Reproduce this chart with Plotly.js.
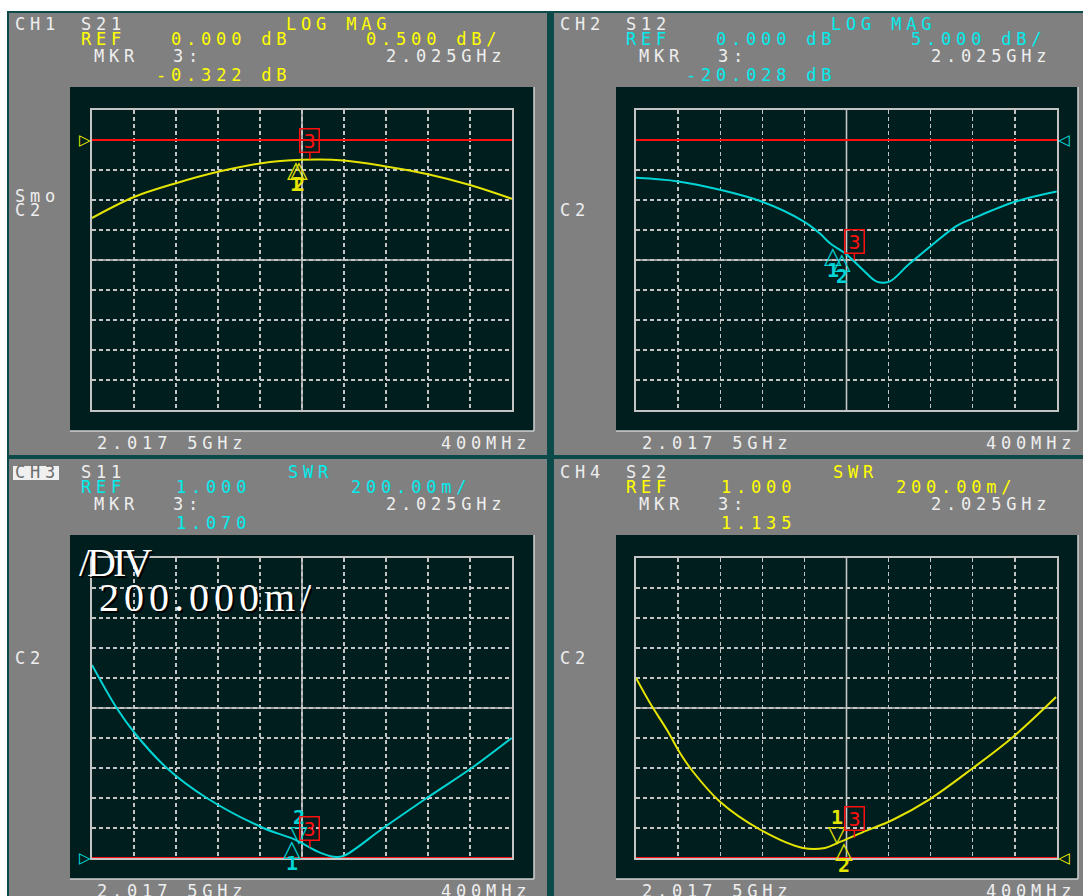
<!DOCTYPE html>
<html><head><meta charset="utf-8">
<script src="https://cdn.plot.ly/plotly-3.0.1.min.js"></script>
<style>html,body{margin:0;padding:0;background:#fff;overflow:hidden}#chart{width:1083px;height:896px}</style>
</head><body><div id="chart"></div>
<script>
const W = 1083, H = 896;

// ---- sweep (center 2.0175 GHz, span 400 MHz) ----
const sweepStart = 1.8175, sweepStop = 2.2175, freqPerDiv = 0.04;

// ---- CH1: S21 LOG MAG (dB) ----
const s21Freq = [1.8175, 1.8575, 1.8975, 1.9375, 1.9775, 2.0175, 2.0575, 2.0975, 2.1375, 2.1775, 2.2175];
const s21Mag  = [-1.30, -0.95, -0.72, -0.53, -0.39, -0.33, -0.34, -0.44, -0.57, -0.75, -0.98];

// ---- CH2: S12 LOG MAG (dB) ----
const s12Freq = [1.8175, 1.8577, 1.8973, 1.9375, 1.9771, 1.9923, 2.0018, 2.0177, 2.0335, 2.0462, 2.0582, 2.0762, 2.0968, 2.1222, 2.1380, 2.1776, 2.2172];
const s12Mag  = [-6.3, -6.9, -8.3, -10.3, -13.6, -15.6, -17.2, -19.1, -21.7, -23.6, -23.6, -20.8, -17.8, -14.3, -13.05, -10.3, -8.6];

// ---- CH3: S11 SWR ----
const s11Freq = [1.8175, 1.8410, 1.8585, 1.8887, 1.9268, 1.9807, 2.0093, 2.0346, 2.0473, 2.0568, 2.0949, 2.1363, 2.1791, 2.2172];
const s11Swr  = [2.287, 2.00, 1.83, 1.60, 1.40, 1.20, 1.127, 1.036, 1.009, 1.013, 1.20, 1.40, 1.60, 1.80];

// ---- CH4: S22 SWR ----
const s22Freq = [1.8175, 1.8308, 1.8470, 1.8593, 1.8717, 1.8973, 1.9353, 1.9762, 1.9971, 2.0113, 2.0332, 2.0617, 2.0968, 2.1377, 2.1757, 2.2166];
const s22Swr  = [2.20, 2.033, 1.853, 1.70, 1.575, 1.375, 1.19, 1.067, 1.067, 1.107, 1.173, 1.255, 1.393, 1.60, 1.807, 2.073];

// ---- per-channel settings ----
const refLevels = [0, 0, 1, 1];
const perDiv    = [0.5, 5, 0.2, 0.2];
const refPosDiv = [9, 9, 0, 0];   // reference position, divisions from bottom

// ---- markers (freq GHz, value) ----
const mkrFreq = [[2.0120, 2.0150, 2.025], [2.005, 2.013, 2.025], [2.008, 2.015, 2.025], [2.0085, 2.015, 2.025]];
const mkrVal  = [[-0.33, -0.33, -0.322], [-17.6, -18.7, -20.028], [1.13, 1.10, 1.070], [1.10, 1.115, 1.135]];
const mkrAbove = [[false, false], [false, false], [false, true], [true, false]];

// ---- annotation texts ----
const chanNames   = ['CH1', 'CH2', 'CH3', 'CH4'];
const paramNames  = ['S21', 'S12', 'S11', 'S22'];
const formatNames = ['LOG MAG', 'LOG MAG', 'SWR', 'SWR'];
const refTexts    = ['0.000 dB', '0.000 dB', '1.000', '1.000'];
const scaleTexts  = ['0.500 dB/', '5.000 dB/', '200.00m/', '200.00m/'];
const mkrValTexts = ['-0.322 dB', '-20.028 dB', '1.070', '1.135'];
const mkrLabel = 'MKR', mkrNum = '3:', mkrFreqText = '2.025GHz';
const centerText = '2.017 5GHz', spanText = '400MHz';

const traceFreqs = [s21Freq, s12Freq, s11Freq, s22Freq];
const traceVals  = [s21Mag, s12Mag, s11Swr, s22Swr];

// ---- styling ----
const YEL = '#ffff00', CYN = '#00ecec', WHT = '#eeeeee';
const TYEL = '#e4e400', TCYN = '#00d4d4';
const textCol  = [YEL, CYN, CYN, YEL];
const traceCol = [TYEL, TCYN, TCYN, TYEL];
const GRID = '#c4c4c4', BLACK = '#011e1e', GRAY = '#808080', TEAL = '#0c4a4a';
const MONO = 'DejaVu Sans Mono';

const px = x => x / W, py = y => 1 - y / H;
const offX = [0, 545, 0, 545], offY = [0, 0, 448, 448];
const gridX = [[92, 512], [636, 1057], [92, 512], [636, 1057]];
const gridY = [[110, 410], [110, 410], [558, 858], [558, 858]];
const grayBox = [[9, 547, 13, 455], [554, 1083, 13, 455], [9, 547, 459, 896], [554, 1083, 459, 896]];
const blackBox = [[70, 534, 87, 431], [616, 1078, 87, 431], [70, 534, 535, 879], [616, 1078, 535, 879]];

const shapes = [];
const annotations = [];
const data = [];
const layout = {
  width: W, height: H, margin: {l: 0, r: 0, t: 0, b: 0},
  paper_bgcolor: '#ffffff', plot_bgcolor: 'rgba(0,0,0,0)', showlegend: false,
  shapes, annotations
};

shapes.push({type: 'rect', xref: 'paper', yref: 'paper', x0: px(7), x1: 1, y0: 0, y1: py(11), fillcolor: TEAL, line: {width: 0}, layer: 'below'});

function txt(text, x, y, color, opt) {
  annotations.push(Object.assign({
    text, xref: 'paper', yref: 'paper', x: px(x), y: py(y), xanchor: 'left', yanchor: 'middle',
    showarrow: false, align: 'left', borderpad: 0,
    font: {family: MONO, size: 17, color}
  }, opt || {}));
}

for (let p = 0; p < 4; p++) {
  const sx = p === 0 ? '' : String(p + 1);
  const xa = 'x' + sx, ya = 'y' + sx;
  const ox = offX[p], oy = offY[p];
  const g = grayBox[p], b = blackBox[p];
  shapes.push({type: 'rect', xref: 'paper', yref: 'paper', x0: px(g[0]), x1: px(g[1]), y0: py(g[3]), y1: py(g[2]), fillcolor: GRAY, line: {width: 0}, layer: 'below'});
  shapes.push({type: 'rect', xref: 'paper', yref: 'paper', x0: px(b[0]), x1: px(b[1]), y0: py(b[3]), y1: py(b[2]), fillcolor: BLACK, line: {width: 0}, layer: 'below'});
  shapes.push({type: 'line', xref: 'paper', yref: 'paper', x0: px(b[1]), x1: px(b[1]), y0: py(b[3]), y1: py(b[2]), line: {color: '#d0d0d0', width: 1.5}, layer: 'below'});
  shapes.push({type: 'line', xref: 'paper', yref: 'paper', x0: px(b[0]), x1: px(b[1]), y0: py(b[3]), y1: py(b[3]), line: {color: '#d0d0d0', width: 1.5}, layer: 'below'});

  const ref = refLevels[p], d = perDiv[p];
  const yr = [ref - refPosDiv[p] * d, ref + (10 - refPosDiv[p]) * d];
  layout['xaxis' + sx] = {
    domain: [px(gridX[p][0]), px(gridX[p][1])], anchor: ya, range: [sweepStart, sweepStop],
    tick0: sweepStart, dtick: freqPerDiv, showgrid: true, gridcolor: GRID, gridwidth: 1.3, griddash: '4px,3px',
    showticklabels: false, ticks: '', zeroline: false, showline: true, mirror: true, linecolor: GRID, linewidth: 1.6, fixedrange: true
  };
  layout['yaxis' + sx] = {
    domain: [py(gridY[p][1]), py(gridY[p][0])], anchor: xa, range: yr,
    tick0: yr[0], dtick: d, showgrid: true, gridcolor: GRID, gridwidth: 1.3, griddash: '4px,3px',
    showticklabels: false, ticks: '', zeroline: false, showline: true, mirror: true, linecolor: GRID, linewidth: 1.6, fixedrange: true
  };
  // solid center cross (paper coords at grid center)
  const cx = (gridX[p][0] + gridX[p][1]) / 2, cy = (gridY[p][0] + gridY[p][1]) / 2;
  shapes.push({type: 'line', xref: 'paper', yref: 'paper', x0: px(cx), x1: px(cx), y0: py(gridY[p][1]), y1: py(gridY[p][0]), line: {color: GRID, width: 1.6}, layer: 'below'});
  shapes.push({type: 'line', xref: 'paper', yref: 'paper', x0: px(gridX[p][0]), x1: px(gridX[p][1]), y0: py(cy), y1: py(cy), line: {color: GRID, width: 1.6}, layer: 'below'});

  // reference line
  data.push({type: 'scatter', mode: 'lines', x: [sweepStart, sweepStop], y: [ref, ref], xaxis: xa, yaxis: ya,
    line: {color: '#ff1010', width: 2}, cliponaxis: false, hoverinfo: 'skip'});
  // measurement trace
  data.push({type: 'scatter', mode: 'lines', x: traceFreqs[p], y: traceVals[p], xaxis: xa, yaxis: ya,
    line: {color: traceCol[p], width: 2, shape: 'spline', smoothing: 1.0}, cliponaxis: false, hoverinfo: 'skip'});

  // reference position indicator
  const leftInd = (p === 0 || p === 2);
  annotations.push({text: leftInd ? '▷' : '◁', xref: xa, yref: ya, x: leftInd ? sweepStart : sweepStop, y: ref,
    xanchor: leftInd ? 'right' : 'left', yanchor: 'middle', showarrow: false, borderpad: 0,
    font: {family: 'DejaVu Sans', size: 15, weight: 'bold', color: textCol[p]}});

  // markers 1,2
  for (let m = 0; m < 2; m++) {
    const above = mkrAbove[p][m];
    annotations.push({text: above ? '▽' : '△', xref: xa, yref: ya, x: mkrFreq[p][m], y: mkrVal[p][m],
      xanchor: 'center', yanchor: above ? 'bottom' : 'top', yshift: above ? -5 : 5, showarrow: false, borderpad: 0,
      font: {family: 'DejaVu Sans', size: 23, weight: 'bold', color: traceCol[p]}});
    annotations.push({text: String(m + 1), xref: xa, yref: ya, x: mkrFreq[p][m], y: mkrVal[p][m],
      xanchor: 'center', yanchor: above ? 'bottom' : 'top', yshift: above ? 13 : -11, showarrow: false, borderpad: 0,
      font: {family: MONO, size: 20, weight: 'bold', color: traceCol[p]}});
  }
  // marker 3 (active) box
  annotations.push({text: '3', xref: xa, yref: ya, x: mkrFreq[p][2], y: mkrVal[p][2],
    showarrow: true, arrowhead: 0, arrowwidth: 1.5, arrowcolor: '#ff1010', ax: 0, ay: -19, standoff: 0,
    bordercolor: '#ff1010', borderwidth: 1.5, borderpad: 0, width: 18, height: 22,
    font: {family: MONO, size: 20, color: '#ff1010'}});

  // header texts
  const fmtX = p < 2 ? 285 : 287;
  const refX = p < 2 ? 170 : 175;
  const scX  = p < 2 ? 365 : 350;
  const mvX  = [155, 140, 175, 175][p];
  if (p === 2) {
    shapes.push({type: 'rect', xref: 'paper', yref: 'paper', x0: px(13), x1: px(59), y0: py(480), y1: py(466), fillcolor: '#f0f0f0', line: {width: 0}, layer: 'below'});
    txt(chanNames[p], 14 + ox, 24 + oy, '#6e6e6e');
  } else {
    txt(chanNames[p], 14 + ox, 24 + oy, WHT);
  }
  txt(paramNames[p], 80 + ox, 24 + oy, WHT);
  txt(formatNames[p], fmtX + ox, 24 + oy, textCol[p]);
  txt('REF', 80 + ox, 39 + oy, textCol[p]);
  txt(refTexts[p], refX + ox, 39 + oy, textCol[p]);
  txt(scaleTexts[p], scX + ox, 39 + oy, textCol[p]);
  txt(mkrLabel, 93 + ox, 56 + oy, WHT);
  txt(mkrNum, 172 + ox, 56 + oy, WHT);
  txt(mkrFreqText, 385 + ox, 56 + oy, WHT);
  txt(mkrValTexts[p], mvX + ox, 75 + oy, textCol[p]);
  txt(centerText, 96 + ox, 443 + oy, WHT);
  txt(spanText, 440 + ox, 443 + oy, WHT);
  if (p === 0) { txt('Smo', 14, 196, WHT); txt('C2', 14, 210, WHT); }
  else txt('C2', 14 + ox, 210 + oy, WHT);
}

// large overlay text on CH3
txt('/DIV', 78, 562, '#ffffff', {font: {family: 'Liberation Serif', size: 40, color: '#ffffff', shadow: '2px 2px 0px #000'}});
txt('200.000m/', 98, 597, '#ffffff', {font: {family: 'Liberation Serif', size: 40, color: '#ffffff', shadow: '2px 2px 0px #000'}});

function spaceLetters() {
  document.querySelectorAll('g.annotation text').forEach(t => {
    const fam = (t.style.fontFamily || '');
    const s = t.textContent;
    if (s === '200.000m/') t.style.letterSpacing = '5px';
    else if (s === '/DIV') t.style.letterSpacing = '-3px';
    else if (fam.indexOf('Mono') >= 0 && s.length > 1) t.style.letterSpacing = '4.8px';
  });
}
Plotly.newPlot('chart', data, layout, {staticPlot: true, displayModeBar: false}).then(spaceLetters, spaceLetters);
</script></body></html>
